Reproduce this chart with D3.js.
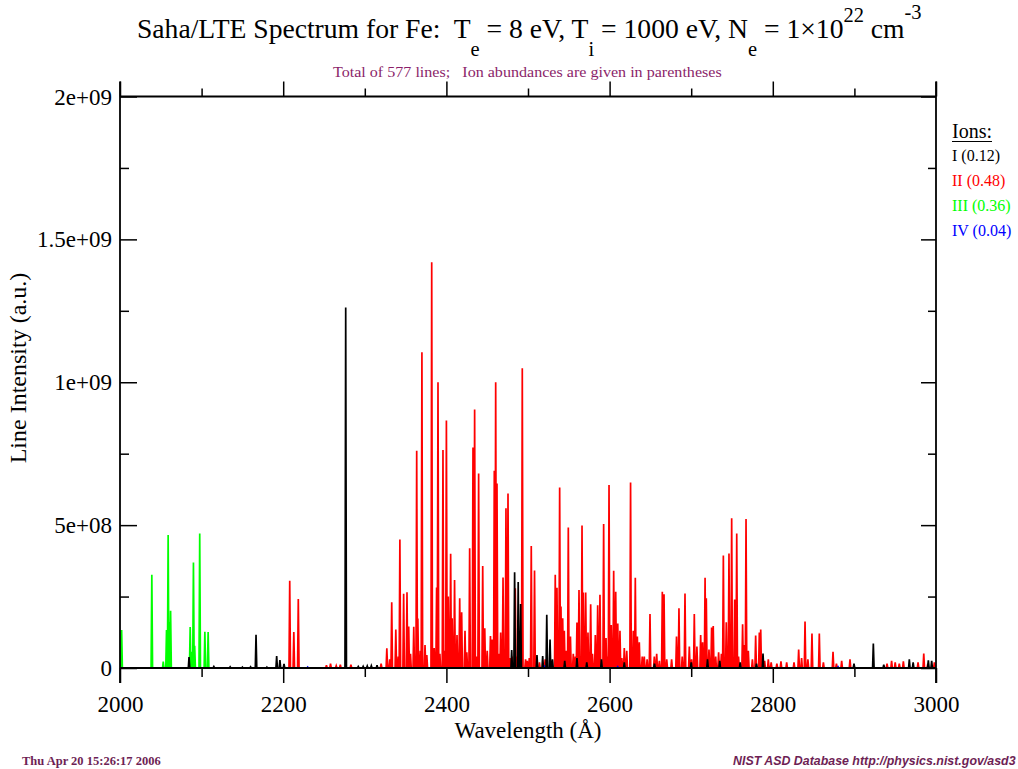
<!DOCTYPE html>
<html>
<head>
<meta charset="utf-8">
<script src="https://cdn.jsdelivr.net/npm/d3@7"></script>
<style>
  body { margin: 0; background: #fff; }
</style>
</head>
<body>
<div id="chart"></div>
<script>
// line lists per ion stage: [wavelength (A), intensity (a.u.)]
const linesI = [
  [2084.6, 3.8e7], [2115, 5e6], [2135, 4e6], [2150, 3e6], [2160, 4e6], [2166.7, 1.16e8],
  [2180, 3e6], [2192, 4.2e7], [2196, 2.8e7], [2201, 1.4e7], [2276.6, 1.262e9],
  [2292, 5e6], [2298, 6e6], [2303, 7e6], [2308, 8e6], [2315, 1e7],
  [2480, 6.3e7], [2483.6, 3.35e8], [2488, 3.01e8], [2491, 2.24e8], [2511, 4.5e7],
  [2518, 4.2e7], [2523, 1.86e8], [2527, 1.0e8], [2530, 3e7], [2545, 2.5e7], [2560, 3.5e7],
  [2572, 2e7], [2590, 3e7], [2618, 2e7], [2655, 1.5e7], [2700, 2e7], [2720, 3e7],
  [2735, 2.5e7], [2760, 2e7], [2780, 1.5e7], [2788, 5.1e7], [2899.5, 1.5e7],
  [2923.2, 8.6e7], [2936, 1.2e7], [2967.3, 3e7], [2972, 2e7], [2990.6, 2.7e7], [2994.7, 2.5e7]
];
const linesII = [
  [2208, 3.05e8], [2213, 1.26e8], [2218.5, 2.41e8], [2253, 1e7], [2258, 1.5e7], [2265, 8e6],
  [2270, 1.2e7], [2283, 1.2e7], [2320, 1.5e7], [2327, 6.9e7], [2333, 2.3e8], [2338, 1.35e8],
  [2343, 4.5e8], [2347.6, 2.6e8], [2351.7, 2.65e8], [2353.8, 1.45e8], [2360, 1.44e8],
  [2363.6, 7.6e8], [2365, 1.73e8], [2370, 1.105e9], [2373.8, 8e7], [2382, 1.42e9],
  [2388, 2.82e8], [2389.7, 1.0e9], [2395.8, 7.63e8], [2400, 8.66e8], [2402.3, 2.5e8],
  [2405.2, 4.0e8], [2407, 1.74e8], [2410, 3.08e8], [2413, 1.15e8], [2416.3, 2.44e8],
  [2418.7, 1.95e8], [2422.8, 1.3e8], [2428.5, 4.19e8], [2432.6, 7.72e8], [2434.6, 9.05e8],
  [2439.5, 6.81e8], [2444.5, 3.57e8], [2447, 1.39e8], [2454, 1.12e8], [2456, 1.0e8],
  [2458.7, 6.9e8], [2460.4, 1.0e9], [2462, 6.46e8], [2466.5, 1.24e8], [2469.4, 3.17e8],
  [2473, 5.59e8], [2475.5, 6.11e8], [2480.5, 4e7], [2484.4, 2.79e8], [2493, 1.049e9],
  [2497, 3e7], [2501.6, 3.5e7], [2504, 4.27e8], [2508, 3.41e8], [2533.4, 3.26e8],
  [2535.5, 2.81e8], [2538.8, 6.32e8], [2540.4, 2.15e8], [2542.5, 1.74e8], [2544.5, 1.3e8],
  [2549.4, 4.92e8], [2552, 1.1e8], [2555.5, 5e7], [2560, 1.59e8], [2562.5, 2.73e8],
  [2566.2, 4.99e8], [2567.8, 2.64e8], [2570.7, 2.64e8], [2573.5, 1.24e8], [2576.8, 2.23e8],
  [2582.5, 1.15e8], [2585.4, 2.2e8], [2588.2, 2.56e8], [2592.7, 5.04e8], [2595.6, 1.05e8],
  [2599.3, 6.4e8], [2602, 1.5e8], [2605, 3.4e8], [2607.5, 2.67e8], [2610, 1.56e8],
  [2612.7, 1.3e8], [2618, 7e7], [2621, 6e7], [2625.7, 6.49e8], [2629, 1.3e8],
  [2631.5, 3.16e8], [2634, 1.1e8], [2636.4, 9e7], [2640, 4e7], [2642.5, 4e7],
  [2649.5, 1.89e8], [2654.8, 4e7], [2657.7, 5e7], [2664.6, 2.67e8], [2666.7, 2.58e8],
  [2670, 3e7], [2682, 1.1e8], [2685, 2.09e8], [2692.4, 2.61e8], [2697.7, 7.5e7],
  [2703.8, 1.89e8], [2707, 7.5e7], [2711.6, 1.15e8], [2714, 9e7], [2717, 3.16e8],
  [2718.5, 2.44e8], [2721.8, 6.5e7], [2725, 1.42e8], [2727, 1.47e8], [2733.6, 5.5e7],
  [2739.4, 3.94e8], [2743, 1.6e8], [2746.3, 4.01e8], [2749.6, 5.24e8], [2753.3, 2.4e8],
  [2755.8, 4.71e8], [2763, 1.53e8], [2765, 8e7], [2767.2, 5.21e8], [2770, 6e7],
  [2779, 1.14e8], [2783.5, 1.24e8], [2785.2, 1.35e8], [2794.5, 3e7], [2798, 2e7],
  [2810, 2.3e7], [2817, 2e7], [2831.7, 6.5e7], [2835.3, 3.5e7], [2839.5, 1.63e8],
  [2848, 1.21e8], [2857, 1.21e8], [2873.8, 5.7e7], [2884.4, 2.5e7], [2894.6, 3e7],
  [2945.6, 2.5e7], [2950, 2e7], [2960, 2.3e7], [2985, 5.1e7], [2998, 2e7],
  // weak lines filling the dense region
  [2330.5, 3e7], [2341, 4e7], [2356, 5e7], [2368, 6e7], [2376, 4.5e7], [2385, 7e7],
  [2392, 5e7], [2398, 6e7], [2425, 5.5e7], [2437, 4e7], [2450, 6e7], [2464, 5e7],
  [2478, 3.5e7], [2487, 4e7], [2499, 2.5e7], [2514, 2e7], [2521, 3e7], [2547, 6e7],
  [2558, 4e7], [2579, 5e7], [2597, 4e7], [2615, 3.5e7], [2627.5, 4e7], [2646, 3e7],
  [2661, 2.5e7], [2676, 3e7], [2689, 4e7], [2700.5, 3e7], [2730, 4e7], [2737, 5e7],
  [2758, 4e7], [2775, 3e7], [2790, 2.5e7], [2805, 1.5e7], [2826, 2e7], [2843, 3e7],
  [2862, 2e7], [2878, 1.5e7], [2940, 1.5e7], [2955, 1.5e7], [2978, 2e7], [2990, 1.5e7]
];
const linesIII = [
  [2002, 1.33e8], [2039, 3.26e8], [2053, 2.2e7], [2057, 1.33e8], [2059, 4.65e8],
  [2060.2, 1.6e8], [2062, 2.0e8], [2086, 1.43e8], [2087.3, 5.7e7], [2090, 3.69e8],
  [2091.5, 7.8e7], [2097.7, 4.71e8], [2104, 1.27e8], [2108, 1.26e8]
];
const linesIV = [
  [2230, 3e6], [2520, 5e6], [2610, 4e6], [2760, 3e6], [2880, 4e6]
];

const ionNames = ["I", "II", "III", "IV"];
const ionAbund = ["0.12", "0.48", "0.36", "0.04"];
const ionColors = ["#000000", "#ff0000", "#00ff00", "#0000ff"];

const xTicks = [2000, 2200, 2400, 2600, 2800, 3000];
const yTicks = [0, 5e8, 1e9, 1.5e9, 2e9];
const yTickLabels = ["0", "5e+08", "1e+09", "1.5e+09", "2e+09"];

var width = 1018, height = 769;
var plotLeft = 120, plotRight = 936, plotTop = 96.5, plotBottom = 668;
var serif = "'Liberation Serif', 'Times New Roman', serif";

const svg = d3.select("#chart").append("svg")
    .attr("width", width)
    .attr("height", height)
    .style("font-family", serif);

const x = d3.scaleLinear().domain([2000, 3000]).range([plotLeft, plotRight]);
const y = d3.scaleLinear().domain([0, 2e9]).range([plotBottom, plotTop]);

// each line drawn as a narrow spike
function spikes(lines) {
    var pts = [];
    lines.slice().sort((a, b) => a[0] - b[0]).forEach(d => {
        pts.push([d[0] - 0.9, 0], [d[0], d[1]], [d[0] + 0.9, 0]);
    });
    return pts;
}
const line = d3.line().x(d => x(d[0])).y(d => y(d[1]));

// squeeze a text horizontally so it spans the given width
function fitWidth(sel, x0, w) {
    var bw = sel.node().getBBox().width;
    sel.attr("transform", "translate(" + x0 + ",0) scale(" + (w / bw) + ",1) translate(" + (-x0) + ",0)");
}

svg.append("clipPath").attr("id", "clip")
    .append("rect").attr("x", plotLeft).attr("y", plotTop)
    .attr("width", plotRight - plotLeft).attr("height", plotBottom - plotTop + 2);

const plot = svg.append("g").attr("clip-path", "url(#clip)");
// draw order: II, III, IV, then I on top
[[linesII, 1], [linesIII, 2], [linesIV, 3], [linesI, 0]].forEach(s => {
    plot.append("path")
        .datum(spikes(s[0]))
        .attr("d", line)
        .attr("fill", "none")
        .attr("stroke", ionColors[s[1]])
        .attr("stroke-width", 1.7);
});

// frame
svg.append("line").attr("x1", plotLeft).attr("x2", plotRight).attr("y1", plotBottom).attr("y2", plotBottom)
    .attr("stroke", "#000").attr("stroke-width", 2.2);
svg.append("line").attr("x1", plotLeft).attr("x2", plotRight).attr("y1", plotTop).attr("y2", plotTop)
    .attr("stroke", "#000").attr("stroke-width", 1.8);
svg.append("line").attr("x1", plotLeft).attr("x2", plotLeft).attr("y1", plotTop - 15).attr("y2", plotBottom + 15)
    .attr("stroke", "#000").attr("stroke-width", 1.8);
svg.append("line").attr("x1", plotRight).attr("x2", plotRight).attr("y1", plotTop - 15).attr("y2", plotBottom + 15)
    .attr("stroke", "#000").attr("stroke-width", 1.8);

const minorX = d3.range(2100, 3000, 200);
const minorY = [2.5e8, 7.5e8, 1.25e9, 1.75e9];

// bottom axis: ticks outward
const gx = svg.append("g").attr("transform", "translate(0," + plotBottom + ")")
    .call(d3.axisBottom(x).tickValues(xTicks).tickFormat(d3.format("d")).tickSize(15).tickPadding(12));
gx.attr("font-family", null);
gx.select(".domain").remove();
gx.selectAll("line").attr("stroke-width", 1.5);
gx.selectAll("text").attr("font-size", 23).style("font-family", serif).attr("dy", "0.72em");
svg.append("g").attr("transform", "translate(0," + plotBottom + ")")
    .call(d3.axisBottom(x).tickValues(minorX).tickSize(9).tickFormat(""))
    .call(g => g.select(".domain").remove())
    .selectAll("line").attr("stroke-width", 1.5);

// top axis: ticks outward, no labels
svg.append("g").attr("transform", "translate(0," + plotTop + ")")
    .call(d3.axisTop(x).tickValues(xTicks).tickSize(15).tickFormat(""))
    .call(g => g.select(".domain").remove())
    .selectAll("line").attr("stroke-width", 1.5);
svg.append("g").attr("transform", "translate(0," + plotTop + ")")
    .call(d3.axisTop(x).tickValues(minorX).tickSize(8).tickFormat(""))
    .call(g => g.select(".domain").remove())
    .selectAll("line").attr("stroke-width", 1.5);

// left axis: ticks inward
svg.append("g").attr("transform", "translate(" + plotLeft + ",0)")
    .call(d3.axisRight(y).tickValues(yTicks).tickSize(17).tickFormat(""))
    .call(g => g.select(".domain").remove())
    .selectAll("line").attr("stroke-width", 1.5);
svg.append("g").attr("transform", "translate(" + plotLeft + ",0)")
    .call(d3.axisRight(y).tickValues(minorY).tickSize(9).tickFormat(""))
    .call(g => g.select(".domain").remove())
    .selectAll("line").attr("stroke-width", 1.5);
svg.append("g").selectAll("text").data(yTicks).enter().append("text")
    .attr("x", plotLeft - 8)
    .attr("y", d => y(d) + 8)
    .attr("text-anchor", "end")
    .attr("font-size", 23)
    .style("font-family", serif)
    .text((d, i) => yTickLabels[i]);

// right axis: ticks inward
svg.append("g").attr("transform", "translate(" + plotRight + ",0)")
    .call(d3.axisLeft(y).tickValues(yTicks).tickSize(15).tickFormat(""))
    .call(g => g.select(".domain").remove())
    .selectAll("line").attr("stroke-width", 1.5);
svg.append("g").attr("transform", "translate(" + plotRight + ",0)")
    .call(d3.axisLeft(y).tickValues(minorY).tickSize(8).tickFormat(""))
    .call(g => g.select(".domain").remove())
    .selectAll("line").attr("stroke-width", 1.5);

// title with sub/superscripts (0 = normal, 1 = subscript, 2 = superscript)
const title = svg.append("text").attr("x", 137).attr("y", 38).attr("font-size", 27)
    .style("font-family", serif).attr("xml:space", "preserve");
[
    ["Saha/LTE Spectrum for Fe:  T", 0], ["e", 1], [" = 8 eV, T", 0], ["i", 1], [" = 1000 eV, N", 0],
    ["e", 1], [" = 1\u00d710", 0], ["22", 2], [" cm", 0], ["-3", 3]
].forEach(p => {
    var t = title.append("tspan").text(p[0]);
    if (p[1] == 0) t.attr("y", 38);
    else if (p[1] == 1) t.attr("y", 56).attr("font-size", 20);
    else if (p[1] == 2) t.attr("y", 22).attr("font-size", 20);
    else t.attr("y", 19).attr("font-size", 20);
});
fitWidth(title, 137, 785);

const subtitle = svg.append("text")
    .attr("x", 333).attr("y", 77)
    .attr("font-size", 15)
    .style("font-family", serif)
    .attr("fill", "#8b1f6a")
    .attr("xml:space", "preserve")
    .text("Total of 577 lines;   Ion abundances are given in parentheses");
fitWidth(subtitle, 333, 389);

// axis titles
svg.append("text")
    .attr("x", (plotLeft + plotRight) / 2).attr("y", 738)
    .attr("text-anchor", "middle")
    .attr("font-size", 23)
    .style("font-family", serif)
    .text("Wavelength (\u00c5)");
svg.append("text")
    .attr("transform", "translate(26," + 368 + ") rotate(-90)")
    .attr("text-anchor", "middle")
    .attr("font-size", 24)
    .style("font-family", serif)
    .text("Line Intensity (a.u.)");

// legend
const ionsLabel = svg.append("text").attr("x", 952).attr("y", 138).attr("font-size", 20)
    .style("font-family", serif).text("Ions:");
var bb = ionsLabel.node().getBBox();
svg.append("line").attr("x1", bb.x).attr("x2", bb.x + bb.width).attr("y1", 141.5).attr("y2", 141.5)
    .attr("stroke", "#000").attr("stroke-width", 1);
ionNames.forEach((n, i) => {
    svg.append("text")
        .attr("x", 952).attr("y", 161 + i * 25)
        .attr("font-size", 16)
        .style("font-family", serif)
        .attr("fill", ionColors[i])
        .text(n + " (" + ionAbund[i] + ")");
});

// footers
svg.append("text")
    .attr("x", 22).attr("y", 765)
    .attr("font-size", 12.5).attr("font-weight", "bold")
    .style("font-family", serif)
    .attr("fill", "#6e1f55")
    .text("Thu Apr 20 15:26:17 2006");
svg.append("text")
    .attr("x", 733).attr("y", 765)
    .attr("font-size", 12.4).attr("font-weight", "bold").attr("font-style", "italic")
    .style("font-family", "'Liberation Sans', Arial, sans-serif")
    .attr("fill", "#6e1f55")
    .text("NIST ASD Database http://physics.nist.gov/asd3");
</script>
</body>
</html>
